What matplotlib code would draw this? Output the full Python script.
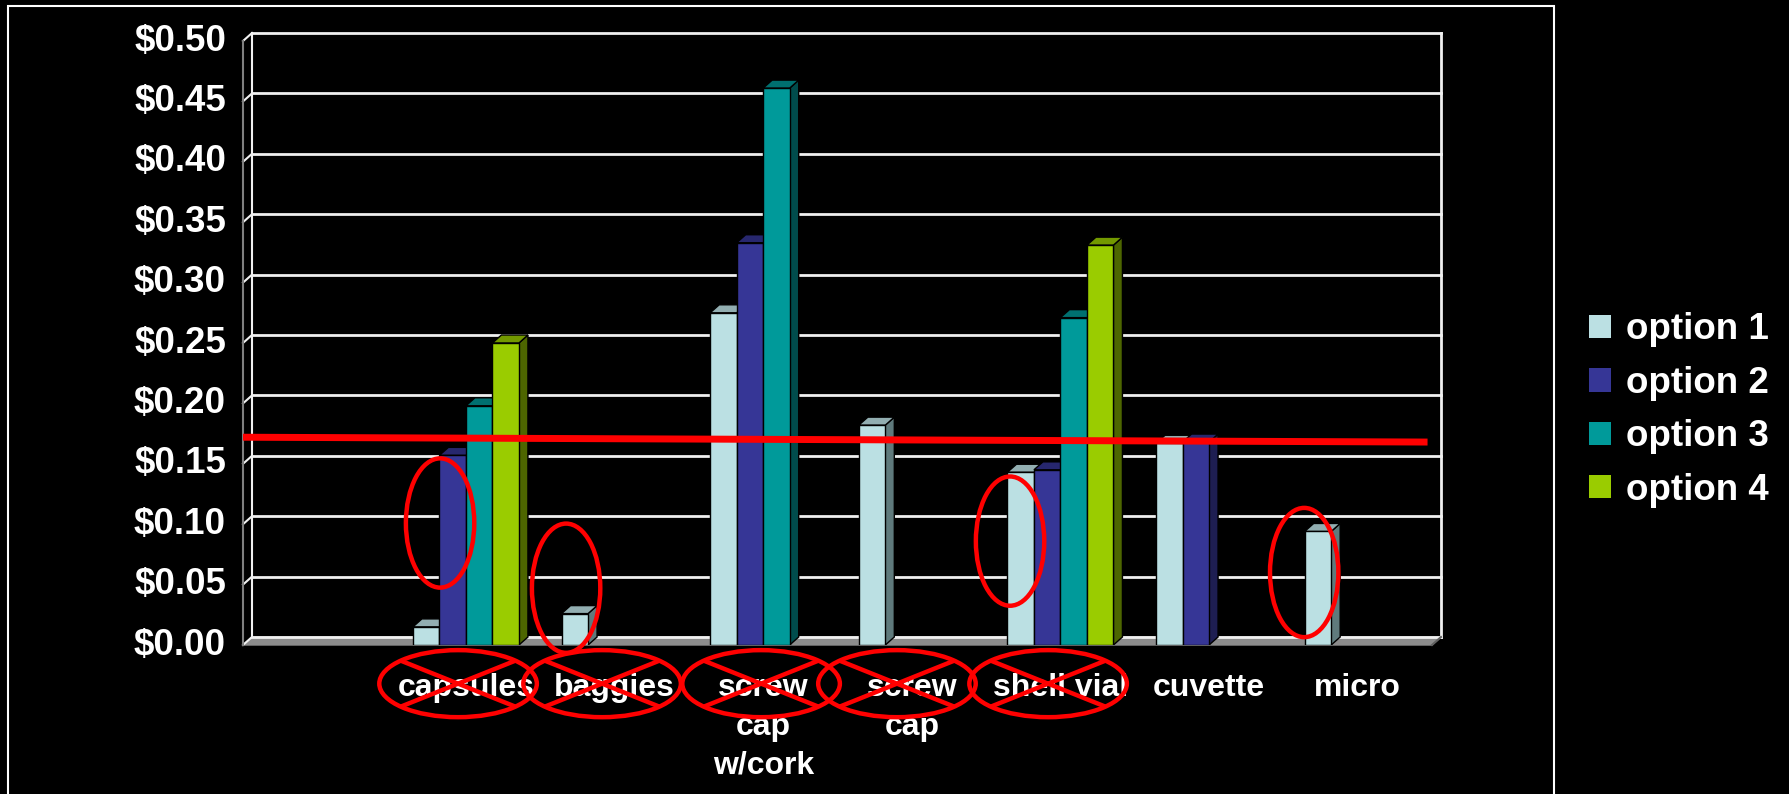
import numpy as np
import matplotlib
matplotlib.use('Agg')
import matplotlib.pyplot as plt
from matplotlib.patches import Polygon, Ellipse, Rectangle, Patch

# chart data
categories = ['', 'capsules', 'baggies', 'screw\ncap\nw/cork', 'screw\ncap',
              'shell vial', 'cuvette', 'micro']
series_names = ['option 1', 'option 2', 'option 3', 'option 4']
nan = np.nan
option1 = [nan, 0.015, 0.026, 0.275, 0.182, 0.143, 0.167, 0.094]
option2 = [nan, 0.157, nan, 0.333, nan, 0.145, 0.168, nan]
option3 = [nan, 0.198, nan, 0.461, nan, 0.271, nan, nan]
option4 = [nan, 0.250, nan, nan, nan, 0.331, nan, nan]
yticks = [0.0, 0.05, 0.10, 0.15, 0.20, 0.25, 0.30, 0.35, 0.40, 0.45, 0.50]

# hand-drawn red marks: threshold line, circles round bars, crossed-out labels
red_line_y = (0.172, 0.168)
bar_circles = [(0.826, 0.101), (1.674, 0.047), (4.661, 0.086), (6.64, 0.060)]
crossed_labels = [0.947, 1.916, 2.986, 3.90, 4.917]

# colours: front, top, side
colors = [('#BBE0E3', '#92AEB1', '#5F7A7C'),
          ('#363696', '#27276E', '#1E1E52'),
          ('#009A9A', '#007070', '#004C4C'),
          ('#9ACC00', '#739900', '#4D6600')]

plt.rcParams['font.family'] = ['Liberation Sans', 'DejaVu Sans']
plt.rcParams['font.weight'] = 'bold'

W, H = 1789, 794
fig = plt.figure(figsize=(W / 100, H / 100), dpi=100, facecolor='black')
ax = fig.add_axes([243 / W, (H - 645) / H, (1432 - 243) / W, 604 / H])
ax.set_facecolor('black')
ax.set_xlim(-0.5, len(categories) - 0.5)
ax.set_ylim(0, 0.5)
ax.axis('off')

# depth of the 3d effect in data units
px_x = (1432 - 243) / len(categories)
px_y = 604 / 0.5
ddx, ddy = 9 / px_x, 8 / px_y
x_left, x_right = -0.5, len(categories) - 0.5

# floor
ax.add_patch(Polygon([(x_left, 0), (x_left + ddx, ddy), (x_right + ddx, ddy), (x_right, 0)],
                     closed=True, facecolor='#8C8C8C', edgecolor='#8C8C8C', lw=1,
                     clip_on=False, zorder=1))
# back wall grid
for v in yticks:
    ax.plot([x_left + ddx, x_right + ddx], [v + ddy, v + ddy], color='#F0F0F0', lw=2,
            clip_on=False, zorder=2)
    ax.plot([x_left, x_left + ddx], [v, v + ddy], color='#F0F0F0', lw=1.5,
            clip_on=False, zorder=2)
    ax.text(x_left - 17 / px_x, v, '${:.2f}'.format(v), color='white', fontsize=26.5,
            ha='right', va='center')
ax.plot([x_left + ddx, x_left + ddx], [ddy, 0.5 + ddy], color='#F0F0F0', lw=1.5,
        clip_on=False, zorder=2)
ax.plot([x_left, x_left], [0, 0.5], color='#808080', lw=1.5, clip_on=False, zorder=2)
ax.plot([x_right + ddx, x_right + ddx], [ddy, 0.5 + ddy], color='#F0F0F0', lw=2,
        clip_on=False, zorder=2)
ax.plot([x_right, x_right + ddx], [0, ddy], color='#606060', lw=1.5, clip_on=False, zorder=2)

# bars
series = [option1, option2, option3, option4]
bw = 26.5 / px_x
z = 3
for k in range(len(categories)):
    for j, vals in enumerate(series):
        v = vals[k]
        if np.isnan(v):
            continue
        front, top, side = colors[j]
        x0 = k - 2 * bw + j * bw
        ax.add_patch(Polygon([(x0 + bw, 0), (x0 + bw + ddx, ddy), (x0 + bw + ddx, v + ddy),
                              (x0 + bw, v)], closed=True, facecolor=side,
                             edgecolor='black', lw=1, zorder=z))
        ax.add_patch(Polygon([(x0, v), (x0 + ddx, v + ddy), (x0 + bw + ddx, v + ddy),
                              (x0 + bw, v)], closed=True, facecolor=top,
                             edgecolor='black', lw=1, zorder=z))
        ax.bar(x0, v, width=bw, align='edge', color=front, edgecolor='black', lw=1,
               zorder=z + 0.5)
        z += 1

# category labels
for k, lab in enumerate(categories):
    ax.text(k, -0.023, lab, color='white', fontsize=23, ha='center', va='top',
            linespacing=1.38, clip_on=False, zorder=50)

# red annotations
ax.plot([x_left, x_right - 0.03], red_line_y, color='#FF0000', lw=5, clip_on=False,
        zorder=100, solid_capstyle='butt')
for cx, cy in bar_circles:
    ax.add_patch(Ellipse((cx, cy), 0.46, 0.107, fill=False, edgecolor='#FF0000', lw=3.2,
                         clip_on=False, zorder=100))
ew, eh, ecy = 1.06, 0.0555, -0.032
for cx in crossed_labels:
    ax.add_patch(Ellipse((cx, ecy), ew, eh, fill=False, edgecolor='#FF0000', lw=3.2,
                         clip_on=False, zorder=100))
    ax.plot([cx - 0.35 * ew, cx + 0.35 * ew], [ecy + 0.33 * eh, ecy - 0.33 * eh],
            color='#FF0000', lw=3.2, clip_on=False, zorder=100)
    ax.plot([cx - 0.35 * ew, cx + 0.35 * ew], [ecy - 0.33 * eh, ecy + 0.33 * eh],
            color='#FF0000', lw=3.2, clip_on=False, zorder=100)

# outer frame
fig.patches.append(Rectangle((8 / W, -0.05), (1554 - 8) / W, (H - 6) / H + 0.05,
                             transform=fig.transFigure, fill=False, edgecolor='white',
                             lw=1.5))

# legend
handles = [Patch(facecolor=c[0], edgecolor='none') for c in colors]
fig.legend(handles, series_names, loc='center left', bbox_to_anchor=(1589 / W, 1 - 410 / H),
           frameon=False, prop=dict(weight='bold', size=26.5), labelcolor='white',
           handlelength=0.6, handleheight=0.6, handletextpad=0.4, labelspacing=0.5,
           borderpad=0, borderaxespad=0)

fig.savefig('out.png', dpi=100, facecolor='black')
